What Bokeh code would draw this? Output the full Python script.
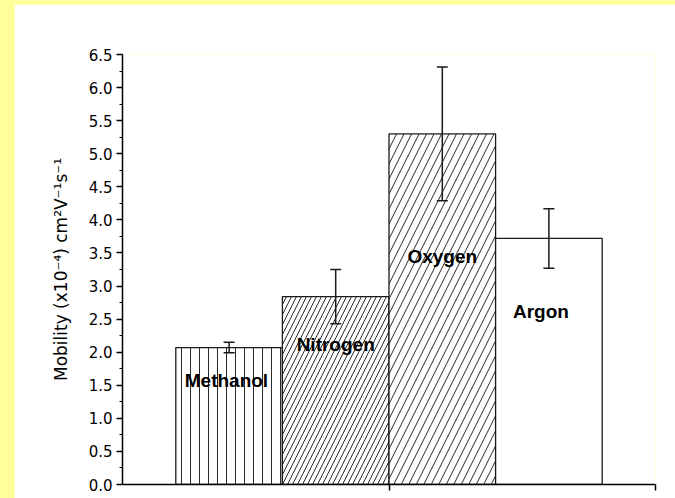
from bokeh.plotting import figure
from bokeh.models import (ColumnDataSource, Whisker, TeeHead, FixedTicker,
                          SingleIntervalTicker, NumeralTickFormatter, Range1d,
                          GlobalInlineStyleSheet)
from bokeh.core.properties import value
from bokeh.embed import file_html
from bokeh.resources import INLINE

# ---- data ----
gases = ["Methanol", "Nitrogen", "Oxygen", "Argon"]
bar_x = [0.4, 0.8, 1.2, 1.6]
mobility = [2.07, 2.84, 5.30, 3.72]
mobility_err = [0.08, 0.41, 1.01, 0.45]
label_x = [0.39, 0.80, 1.20, 1.57]
label_y = [1.57, 2.11, 3.45, 2.62]
y_tick_values = [0.0, 0.5, 1.0, 1.5, 2.0, 2.5, 3.0, 3.5, 4.0, 4.5, 5.0, 5.5, 6.0, 6.5]

# ---- styles ----
hatches = ["vertical_line", "right_diagonal_line", "right_diagonal_line", " "]
hatch_scales = [9.0, 10.0, 15.0, 8.0]

src = ColumnDataSource(dict(
    x=bar_x, top=mobility, name=gases,
    upper=[m + e for m, e in zip(mobility, mobility_err)],
    lower=[m - e for m, e in zip(mobility, mobility_err)],
    hatch=hatches, hscale=hatch_scales,
))
lab = ColumnDataSource(dict(x=label_x, y=label_y, text=gases))

p = figure(width=661, height=494, output_backend="svg", toolbar_location=None,
           x_range=Range1d(0, 2), y_range=Range1d(0, 6.5),
           min_border_left=108, min_border_top=50, min_border_right=20,
           min_border_bottom=14)
p.stylesheets = [GlobalInlineStyleSheet(
    css="body { background: #FFFF99 !important; margin: 4px 0 0 14px !important; }")]
p.background_fill_color = "white"
p.border_fill_color = "white"
p.outline_line_color = None
p.grid.visible = False

p.vbar(x="x", top="top", width=0.4, source=src, fill_color="white",
       line_color="#1a1a1a", line_width=1.3,
       hatch_pattern="hatch", hatch_scale="hscale", hatch_color="#2a2a2a",
       hatch_weight=1.0)

wh = Whisker(source=src, base="x", upper="upper", lower="lower",
             line_color="#1a1a1a", line_width=1.5, level="overlay",
             upper_head=TeeHead(size=11, line_width=1.5, line_color="#1a1a1a"),
             lower_head=TeeHead(size=11, line_width=1.5, line_color="#1a1a1a"))
p.add_layout(wh)

p.text(x="x", y="y", text="text", source=lab,
       text_font=value("Liberation Sans"), text_font_style="bold",
       text_font_size="19px", text_align="center", text_baseline="middle",
       text_color="black")

# y axis
yax = p.yaxis[0]
yax.ticker = SingleIntervalTicker(interval=0.5, num_minor_ticks=2)
yax.formatter = NumeralTickFormatter(format="0.0")
yax.axis_label = "Mobility (x10\u207b\u2074) cm\u00b2V\u207b\u00b9s\u207b\u00b9"
yax.axis_label_text_font = "DejaVu Sans"
yax.axis_label_text_font_size = "17px"
yax.axis_label_text_font_style = "normal"
yax.axis_label_text_color = "black"
yax.axis_label_standoff = 15
yax.major_label_text_font = "DejaVu Sans"
yax.major_label_text_font_size = "15px"
yax.major_label_text_color = "black"
yax.major_label_standoff = 4
yax.axis_line_width = 1.5
yax.axis_line_color = "black"
yax.major_tick_in = 0
yax.major_tick_out = 6
yax.major_tick_line_width = 1.5
yax.minor_tick_in = 0
yax.minor_tick_out = 3
yax.minor_tick_line_width = 1.2

# x axis
xax = p.xaxis[0]
xax.ticker = FixedTicker(ticks=[1, 2], minor_ticks=[])
xax.major_label_overrides = {1: "", 2: ""}
xax.major_label_text_font_size = "0px"
xax.major_label_standoff = 0
xax.axis_line_width = 1.5
xax.axis_line_color = "black"
xax.major_tick_in = 0
xax.major_tick_out = 6
xax.major_tick_line_width = 1.5
xax.minor_tick_out = 0

open("out.html", "w").write(file_html(p, INLINE))
